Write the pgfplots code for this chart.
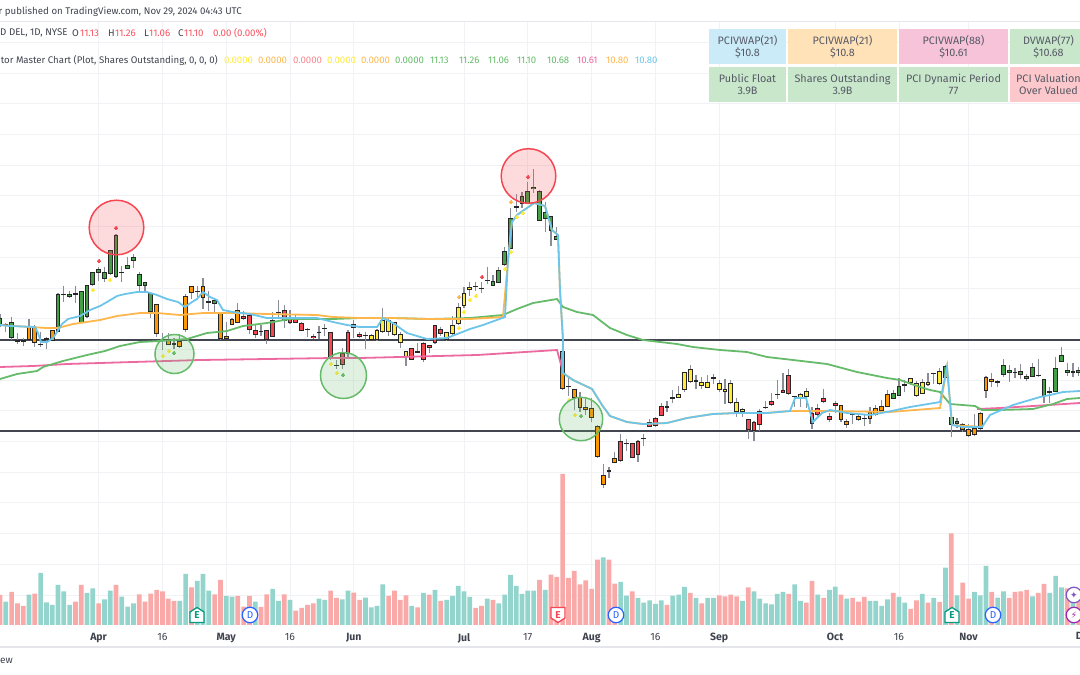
\documentclass[border=0pt]{standalone}
\usepackage{fontspec}
\setmainfont{Fira Sans}
\newfontfamily\sym{DejaVu Sans}
\usepackage{pgfplots}
\usepackage{pgfplotstable}
\pgfplotsset{compat=1.18}
\definecolor{gridc}{HTML}{F1F2F5}
\definecolor{sepc}{HTML}{E4E6EC}
\definecolor{hline}{HTML}{434651}
\definecolor{wick}{HTML}{8A8D96}
\definecolor{cgreen}{HTML}{43A047}
\definecolor{cyellow}{HTML}{FFEB3B}
\definecolor{corange}{HTML}{FF9800}
\definecolor{cred}{HTML}{F44751}
\definecolor{lblue}{HTML}{6DC5EA}
\definecolor{lorange}{HTML}{FFB74D}
\definecolor{lgreen}{HTML}{66BB6A}
\definecolor{lpink}{HTML}{EC6AA0}
\definecolor{volup}{HTML}{93D4CD}
\definecolor{voldn}{HTML}{F9A9A7}
\definecolor{txt}{HTML}{3F434E}
\definecolor{cellt}{HTML}{565A66}
\definecolor{valr}{HTML}{F7525F}
\definecolor{vy}{HTML}{FFEB3B}
\definecolor{evg}{HTML}{089981}
\definecolor{evb}{HTML}{2962FF}
\definecolor{evp}{HTML}{9C27B0}
\definecolor{evv}{HTML}{7E57C2}

% all values are read off the picture in pixels; i is the trading day, 5.8 px apart
\pgfplotstableread{
i hi lo top bot
0 314.3 326.7 317.7 325
2 317.3 340 322.3 337.7
10 293.3 332.3 294.3 332.3
12 290.7 297.7 294.3 297
14 291 322.7 291 322.7
15 285.3 317.7 285.3 316.7
16 271.7 285.7 272.3 285
17 267.3 280.7 269.3 272.7
18 267 282.3 272 279.3
19 250.3 275 250.3 274.3
20 234.3 277.7 235.3 277
22 256.7 269 265 269
23 253.7 268.3 257 261.3
24 272.3 291.7 273.7 285.7
25 281.7 293.3 282.3 286.3
26 292.7 317.7 293.3 312.3
36 291 311 301.3 303.3
37 297.7 314.3 300.3 304.3
85 275 286 281.3 286
86 267.3 283.3 269.7 282.7
87 247.3 266 251.3 265.3
88 207.7 248.7 218.3 248.7
90 191.7 208 196.3 203.7
91 181.7 203.7 191.3 203.7
92 169 193.3 187 189.3
93 190.3 221 191 221
94 201.7 231.7 212 219.3
95 215.7 245.7 216.3 230.7
96 227 240 236.3 239.7
154 390 399 393.3 398.7
155 377.7 396 386.3 395.7
163 365 378.7 366 378.3
164 416.7 437.3 416.7 425
165 418.3 428.3 420.7 424
172 380 387.3 381.3 383.3
173 359.3 376.7 365.3 375.3
174 365 382.3 370.3 373.3
176 364.3 378.7 371.3 375.3
177 374 380.7 376 379
178 363.3 377.3 366.7 376.7
180 378.7 402.7 378.7 396
181 386.7 403.3 391.3 393.3
182 356.7 391.7 368.3 391.7
183 347.3 362 354.5 361.5
184 362.7 376 370 373.3
185 363.3 376.7 371.3 373.3
186 367 376 370 372.5
}\greenT
\pgfplotstableread{
i hi lo top bot
1 322.7 332.3 323.7 325
3 333.3 344 340.3 341.7
4 337.7 345.7 340.3 341.7
7 331.7 347.3 343.6 345
11 285.7 301.7 293.6 295
13 285.7 303.3 293.3 294.7
21 265.7 282.3 271.6 273
28 333.3 350 339.6 341
34 285.7 296.7 291 292.4
45 325 335.7 330.6 332
48 300.3 317.7 312 313.4
53 328.3 336.7 328.6 330
55 326 339 331.6 333
56 324.3 335.7 328 329.4
58 360 369 364.6 366
63 331.7 349.3 335 336.4
82 281.7 290.7 286 287.4
84 266.7 284.3 280 281.4
89 194 212.3 206.3 207.7
98 377.7 396 386 387.4
105 466.7 477.7 470.3 471.7
108 439 450.7 443 444.4
111 434 446 438 439.4
116 390 402.7 397.3 398.7
120 375 389.3 380.3 381.7
132 400.7 409.3 406.6 408
134 380 399.3 393.6 395
137 396 406.7 396 397.4
147 414 424 413.6 415
149 414 425.7 417.6 419
156 380 391.7 384.3 385.7
161 372.7 384 373 374.4
175 367.7 378.3 371.6 373
179 359.3 377.3 374.6 376
}\dojiT
\pgfplotstableread{
i hi lo top bot
5 319.3 340 327.3 340
6 325 347.3 327.3 342.7
8 336.7 349 337.7 339.7
9 330 341 330.3 341
27 304.3 336.7 304.3 334.3
29 333.3 345.3 339.3 345.3
30 338.3 349 343 344.7
31 334.3 347.7 341.3 347
32 294.3 332.3 296 329.7
33 285.7 299 285.7 293.3
35 278.3 309.3 286.3 297.7
38 313.3 340 313.3 339.3
39 322.3 338.7 335.7 338.7
40 317.7 325 319.3 324.7
41 303 322.7 310.3 322.7
97 341.7 390 351 389.3
99 388.7 410 388.7 398.3
100 392 411.7 396.7 408.3
101 398.3 415 407.3 410
102 398.3 421.7 407.7 417.7
103 425 457.7 425.7 457
104 464.3 487.7 475.3 484.7
106 451.7 463.3 458.3 463.3
145 405 422 405 420
146 419.3 428.3 421.3 424.7
148 414 421 416 419.7
150 407.3 424 411.7 419.3
151 405 416 408 415
152 400 411.7 405.7 411
153 390 407.3 393.7 407
166 423.3 431.7 423.7 430
167 424 436.7 428.7 436
168 414.3 436 427.7 435.3
169 411.7 430 412.7 429
170 376 398 377.3 391
171 373.3 386.7 379.3 382
}\orangeT
\pgfplotstableread{
i hi lo top bot
64 334 340 335 340
65 329.3 340.7 330 340
66 307.7 332.7 320 331.7
67 319.3 336 320 332.3
68 321.7 336 322.3 334.7
69 331.7 348.3 334 343.3
70 351 365.7 351 356.7
77 331.7 340.7 332.3 340
78 316 335 325.3 334.3
79 302.7 325 307 324
80 287.3 308.3 293.3 305.7
81 281.7 295.7 287.3 289.7
83 281.7 293.3 287.7 289.3
115 400.7 411.7 406.3 408.3
117 386 398.3 393.7 398
118 371.7 391.7 372.3 390.3
119 365.3 383.3 369.3 382.3
121 376.7 389.3 382.3 386
122 375 388.3 381.7 388
123 374.3 384 377.3 379.3
124 380 392.3 383.3 390.3
125 379.3 404 389.3 391.7
126 380 404 383.3 402.7
127 398.3 416.7 401.7 412.3
128 408.3 416.7 409 412.3
138 393.3 406.7 394 398.3
139 388.3 408.3 391 396.7
157 377.7 385 378.3 382.7
158 380.7 396.7 383.3 396.3
159 379.3 394 381.7 393.7
160 373.3 386 381.7 385
162 368.3 385 371.3 384.3
}\yellowT
\pgfplotstableread{
i hi lo top bot
42 311 320 315.7 318.7
43 315.3 333.7 315.3 329.7
44 325 337.7 330.3 334.7
46 330.3 344 330.3 340
47 312.3 337 320 336.7
49 305 327.7 310.3 321
50 310 323.7 316.7 323.3
51 315 323.3 318.3 322.7
52 321.7 331 323 330.7
54 334.3 339 335.7 338
57 332.3 360 332.3 358.3
59 348.3 369 353.3 365
60 330.3 358.3 331.7 353.7
61 320 338.3 324.3 328.3
62 331.7 338.3 334 337.3
71 348 360 348 360
72 343.3 352.7 350.7 352.7
73 342 361.7 342.7 360
74 345 353.3 345 348.3
75 325 344.3 325.3 343.3
76 326.7 336 329.3 334.3
107 434 461.7 441.3 461.3
109 442.7 458.3 443 457.7
110 440 462.3 440.7 454.7
112 419.3 426.7 421.7 426.7
113 417.3 426.7 418.3 426
114 403.3 415.7 405.7 415.7
129 419.3 439 419.3 430
130 420.7 441 421.7 430.7
131 409.3 430.7 411 425
133 393.3 406 401 404.7
135 373.3 393.3 390 393
136 369.3 394.7 375.3 394
140 407.3 429 413.3 424
141 404 418.3 408.3 415.3
142 388.7 402.7 398.3 402
143 413.3 422.3 415.7 420.3
144 400.7 413.3 403.3 405.7
}\redT
\pgfplotstableread{
i h
1 23.3
5 30.3
7 52
8 22.7
9 20
10 40
11 33.7
12 20
15 32
16 36.7
18 25.7
19 34.3
21 28.3
22 18.3
23 21.7
31 24
32 51
34 44
35 51
36 34.3
39 29
40 28.3
44 23.3
47 36
48 24
50 25
55 26.3
56 25
59 25.7
60 34.3
63 27.3
64 17.7
65 19
66 40.7
71 19
73 32
75 35
77 25
78 29
79 39
80 33.7
81 28
84 26.3
86 21.7
87 30.3
88 50
89 39
90 31
91 34.3
92 34.3
94 35
104 67.7
107 43
108 29.3
110 27
111 22.3
112 24.7
113 21
114 24.7
116 29.3
117 30.3
118 38
120 27
122 27
123 27
128 24
130 33.7
131 26.3
132 21.7
133 20.7
134 31
135 33
137 40.7
138 24
141 30.3
143 35
144 38.3
146 26.3
150 24
151 24
152 19
153 25.7
155 28
156 22.3
159 31
161 27
163 57.3
165 29.7
168 33
169 29.7
170 59
172 27.3
173 33.7
178 28.7
181 32
182 49
183 37.7
185 38
}\volUp
\pgfplotstableread{
i h
0 30
2 33
3 21.7
4 19
6 31.3
13 23.3
14 40
17 21.7
20 40
24 30.7
25 23.3
26 31.3
27 35
28 33.7
29 26.3
30 24
33 37.7
37 30.7
38 45
41 29
42 18.3
43 29
45 18
46 30.7
49 30.7
51 14.3
52 17
53 20
54 21.7
57 34.3
58 27
61 32.3
62 25
67 29
68 34.3
69 25
70 29.7
72 17.7
74 30.3
76 24
82 17
83 19
85 25
93 45
95 50.3
96 48
97 151
98 47
99 54
100 40.7
101 44.7
102 36
103 65.3
105 65.3
106 41.3
109 33.7
115 20
119 32
121 21.7
124 29.7
125 28.7
126 30.3
127 28.7
129 37.7
136 31
139 22.3
140 44
142 27
145 30.3
147 27
148 23.3
149 28
154 32
157 16
158 24.7
160 22.3
162 23
164 91.7
166 42.3
167 26.3
171 33
174 27
175 33
176 33.7
177 35
179 32
180 41
184 36.7
186 30
}\volDn

\newcommand{\wicks}[1]{%
  \addplot[draw=none,mark=none,forget plot,error bars/.cd,y dir=plus,y explicit,error mark=none,
    error bar style={line width=1.3pt,draw=wick}]
    table[x expr=5.8*\thisrow{i},y=hi,y error plus expr={\thisrow{lo}-\thisrow{hi}}] {#1};
}
\newcommand{\bodies}[2]{%
  \addplot[draw=none,mark=none,forget plot,error bars/.cd,y dir=plus,y explicit,error mark=none,
    error bar style={line width=4.8pt,draw=black!85}]
    table[x expr=5.8*\thisrow{i},y=top,y error plus expr={\thisrow{bot}-\thisrow{top}}] {#1};
  \addplot[draw=none,mark=none,forget plot,error bars/.cd,y dir=plus,y explicit,error mark=none,
    error bar style={line width=2.9pt,draw=#2}]
    table[x expr=5.8*\thisrow{i},y expr={\thisrow{top}+1},y error plus expr={max(\thisrow{bot}-\thisrow{top}-2,0)}] {#1};
}
\newcommand{\sigdots}[2]{%
  \addplot[only marks,mark=*,mark size=1.9pt,mark options={draw=#1,fill=#1,line width=0pt},forget plot] coordinates {#2};
}
\newcommand{\ring}[4]{%
  \addplot[only marks,mark=*,mark size=#2pt,mark options={draw=#1,fill=#1,fill opacity=0.2,line width=1.5pt},forget plot] coordinates {(#3,#4)};
}
\newcommand{\cell}[7]{%
  \fill[#1] (axis cs:#2,#3) rectangle (axis cs:#4,#5);
  \node[font=\fontsize{10.8}{12.3}\selectfont,text=cellt,align=center,inner sep=0pt] at (axis cs:#6,#3/2+#5/2) {#7};
}
\newcommand{\val}[3]{%
  \node[anchor=west,inner sep=0pt,text=#2,font=\fontsize{9.6}{12}\selectfont] at (axis cs:#1,60) {#3};
}
\newcommand{\ohlc}[3]{%
  \node[anchor=west,inner sep=0pt,text=#2,font=\fontsize{9.7}{12}\selectfont] at (axis cs:#1,33) {#3};
}
\newcommand{\evD}[1]{%
  \node[circle,draw=evb,fill=white,line width=1.2pt,minimum size=15.5pt,inner sep=0pt,text=evb,font=\fontsize{10}{10}\selectfont] at (axis cs:#1,10) {D};
}
\newcommand{\evEup}[1]{%
  \draw[draw=evg,fill=white,line width=1.3pt] (axis cs:#1,10) ++(-7pt,-7.5pt) -- ++(14pt,0pt) -- ++(0pt,10.5pt) -- ++(-7pt,4.5pt) -- ++(-7pt,-4.5pt) -- cycle;
  \node[text=evg,font=\fontsize{10}{10}\selectfont\bfseries,inner sep=0pt] at (axis cs:#1,10) {E};
}
\newcommand{\evEdn}[1]{%
  \draw[draw=cred,fill=white,line width=1.3pt] (axis cs:#1,10) ++(-7pt,7.5pt) -- ++(14pt,0pt) -- ++(0pt,-10.5pt) -- ++(-7pt,-4.5pt) -- ++(-7pt,4.5pt) -- cycle;
  \node[text=cred,font=\fontsize{10}{10}\selectfont\bfseries,inner sep=0pt] at (axis cs:#1,10) {E};
}

\begin{document}
\begin{tikzpicture}
% price pane: x and y in pixels of the picture
\begin{axis}[
  at={(0,0)},anchor=south west,
  scale only axis,width=1080pt,height=675pt,
  xmin=0,xmax=1080,ymin=0,ymax=675,y dir=reverse,
  axis line style={draw=none},
  major tick length=0pt,
  ytick=\empty,
  xtick={98.6,162.4,226.2,290,353.8,464,527.8,591.6,655.4,719.2,835.2,899,968.6},
  xticklabels={\textbf{Apr},16,\textbf{May},16,\textbf{Jun},\textbf{Jul},17,\textbf{Aug},16,\textbf{Sep},\textbf{Oct},16,\textbf{Nov}},
  x tick label style={font=\fontsize{10.5}{13}\selectfont,text=txt,yshift=45pt},
]
% grid and separators
\pgfplotsinvokeforeach{98.6,162.4,226.2,290,353.8,464,527.8,591.6,655.4,719.2,835.2,899,968.6}{
  \draw[gridc,line width=0.9pt] (axis cs:#1,21) -- (axis cs:#1,625);
}
\pgfplotsinvokeforeach{73.1,103.8,134.5,165.2,195.9,226.6,257.3,288,318.7,349.4,380.1,410.8,441.5,472.2,502.9,533.6,564.3,595}{
  \draw[gridc,line width=0.9pt] (axis cs:0,#1) -- (axis cs:1080,#1);
}
\draw[sepc,line width=1pt] (axis cs:0,21.5) -- (axis cs:1080,21.5);
\draw[gridc,line width=0.8pt] (axis cs:0,42) -- (axis cs:1080,42);
\draw[sepc,line width=1.2pt] (axis cs:0,647) -- (axis cs:1080,647);
% header
\node[anchor=east,inner sep=0pt,text=txt,font=\fontsize{9.7}{12}\selectfont] at (axis cs:242,12) {r published on TradingView.com, Nov 29, 2024 04:43 UTC};
\node[anchor=west,inner sep=0pt,text=txt,font=\fontsize{9.7}{12}\selectfont] at (axis cs:0,33) {D DEL, 1D, NYSE};
\ohlc{72}{txt}{O}\ohlc{80}{valr}{11.13}\ohlc{108}{txt}{H}\ohlc{115}{valr}{11.26}
\ohlc{144}{txt}{L}\ohlc{149}{valr}{11.06}\ohlc{178}{txt}{C}\ohlc{184}{valr}{11.10}
\ohlc{213}{valr}{0.00 (0.00\%)}
\node[anchor=east,inner sep=0pt,text=txt,font=\fontsize{9.6}{12}\selectfont] at (axis cs:218,60) {tor Master Chart (Plot, Shares Outstanding, 0, 0, 0)};
\val{224}{vy}{0.0000}\val{258}{lorange}{0.0000}\val{293}{valr!70}{0.0000}\val{327}{vy}{0.0000}
\val{361}{lorange}{0.0000}\val{395}{lgreen}{0.0000}\val{430}{lgreen}{11.13}\val{459}{lgreen}{11.26}
\val{488}{lgreen}{11.06}\val{517}{lgreen}{11.10}\val{547}{lgreen}{10.68}\val{577}{lpink}{10.61}
\val{606}{lorange}{10.80}\val{635}{lblue}{10.80}
% info table
\cell{lblue!35}{709}{29}{786}{64}{747.5}{PCIVWAP(21)\\\$10.8}
\cell{lorange!40}{788}{29}{897}{64}{842.5}{PCIVWAP(21)\\\$10.8}
\cell{lpink!40}{899}{29}{1008}{64}{953.5}{PCIVWAP(88)\\\$10.61}
\cell{lgreen!35}{1010}{29}{1087}{64}{1048.5}{DVWAP(77)\\\$10.68}
\cell{lgreen!35}{709}{67}{786}{102}{747.5}{Public Float\\3.9B}
\cell{lgreen!35}{788}{67}{897}{102}{842.5}{Shares Outstanding\\3.9B}
\cell{lgreen!35}{899}{67}{1008}{102}{953.5}{PCI Dynamic Period\\77}
\cell{cred!30}{1010}{67}{1087}{102}{1048.5}{PCI Valuation\\Over Valued}
% horizontal levels
\addplot[hline,line width=1.7pt,forget plot] coordinates {(0,340.3) (1080,340.3)};
\addplot[hline,line width=1.7pt,forget plot] coordinates {(0,431) (1080,431)};
% candles
\wicks{\greenT}\wicks{\dojiT}\wicks{\orangeT}\wicks{\yellowT}\wicks{\redT}
\bodies{\greenT}{cgreen}
\bodies{\orangeT}{corange}
\bodies{\yellowT}{cyellow}
\bodies{\redT}{cred}
\bodies{\dojiT}{black}
% moving lines
\addplot[lpink,line width=1.8pt,forget plot] coordinates {(0,367) (33,366) (67,364) (133,362) (200,360) (267,359) (333,358) (360,358) (477,355) (557,350) (563,372)};
\addplot[lpink,line width=1.8pt,forget plot] coordinates {(977,409) (1000,408) (1033,406) (1080,403)};
\addplot[lgreen,line width=1.8pt,forget plot] coordinates {(0,379) (17,374) (37,371) (43,367) (63,361) (87,355) (105,351) (120,346) (140,342) (160,341) (187,339) (207,333) (227,331) (243,326) (267,323) (290,319) (333,319) (360,318) (393,318) (430,319) (470,318) (503,315) (517,309) (533,303) (557,299) (563,307) (577,312) (593,315) (610,328) (627,335) (643,340) (677,344) (693,347) (720,350) (747,352) (767,357) (793,360) (827,364) (857,372) (887,378) (900,380) (920,387) (930,390) (940,392) (950,404) (975,406) (982,410) (1000,410) (1033,409) (1053,404) (1067,399) (1080,398)};
\addplot[lorange,line width=1.8pt,forget plot] coordinates {(0,325) (30,327) (47,328) (58,328) (73,324) (100,320) (117,316) (140,313) (157,313) (180,315) (203,313) (233,313) (267,314) (317,315) (333,317) (360,318) (393,318) (427,319) (470,319) (503,317) (508,260) (512,222) (517,215) (527,208) (534,203) (545,206) (552,230) (558,235) (560,290) (563,340) (563,373) (573,380) (592,389) (602,405) (610,416) (627,422) (643,424) (667,423) (687,418) (713,414) (737,413) (767,413) (790,411) (830,411) (890,412) (940,408) (947,367) (952,425) (982,427)};
\addplot[lblue,line width=1.8pt,forget plot] coordinates {(0,325) (10,326) (35,327) (38,333) (41,342) (47,342) (53,338) (57,332) (62,324) (68,319) (80,316) (90,310) (100,306) (107,302) (117,296) (125,294) (137,292) (147,292) (157,295) (167,299) (178,302) (185,307) (192,302) (197,299) (203,292) (210,297) (217,300) (223,310) (233,312) (250,314) (267,318) (317,318) (333,322) (347,325) (360,327) (377,327) (383,318) (393,323) (407,333) (427,339) (447,338) (470,329) (483,325) (505,317) (508,260) (512,222) (517,215) (527,208) (534,203) (545,206) (552,230) (558,235) (560,290) (563,340) (563,373) (573,380) (592,389) (602,405) (610,416) (627,422) (643,424) (667,423) (687,418) (713,414) (737,413) (767,413) (790,411) (795,398) (806,398) (813,422) (822,413) (830,410) (847,413) (870,415) (887,412) (910,407) (940,402) (947,367) (952,425) (963,427) (982,427) (990,415) (1013,405) (1040,397) (1050,395) (1063,392) (1080,391)};
% signal dots
\sigdots{cred}{(116,228) (99,261) (482,277) (528,177)}
\sigdots{lorange}{(459,297) (511,202)}
\sigdots{vy}{(93,290) (110,280) (163,356) (169,351) (331,364) (337,373) (459,328) (464,312) (470,300) (476,296) (505,269) (511,252) (517,217) (523,213) (569,400) (575,415)}
\sigdots{lgreen}{(174,353) (343,375) (581,416)}
% circled highs and lows
\ring{cred}{27.3}{116.5}{227.5}
\ring{cred}{27.3}{528.5}{176}
\ring{lgreen}{19.5}{174.5}{354}
\ring{lgreen}{23}{343.5}{375.5}
\ring{lgreen}{21.7}{581}{419}
% bottom texts
\node[anchor=west,inner sep=0pt,text=txt,font=\fontsize{10}{12}\selectfont] at (axis cs:0,661) {ew};
\node[inner sep=0pt,text=txt,font=\fontsize{10.5}{13}\selectfont\bfseries] at (axis cs:1084.6,636) {Dec};
\end{axis}
% volume pane: height of each bar in pixels above the base line
\begin{axis}[
  at={(0,0)},anchor=south west,
  scale only axis,width=1080pt,height=675pt,
  xmin=0,xmax=1080,ymin=-50,ymax=625,
  hide axis,
]
\addplot[ybar,bar width=4.7pt,bar shift=0pt,fill=volup,draw=none,forget plot] table[x expr=5.8*\thisrow{i},y=h] {\volUp};
\addplot[ybar,bar width=4.7pt,bar shift=0pt,fill=voldn,draw=none,forget plot] table[x expr=5.8*\thisrow{i},y=h] {\volDn};
\evEup{197}\evD{250}\evEdn{558}\evD{616}\evEup{952}\evD{993}
\node[circle,draw=evv,fill=white,line width=1.2pt,minimum size=15.5pt,inner sep=0pt,text=evv,font=\sym\fontsize{9}{9}\selectfont] at (axis cs:1074,30) {✦};
\node[circle,draw=evp,fill=white,line width=1.2pt,minimum size=15.5pt,inner sep=0pt,text=evp,font=\sym\fontsize{9}{9}\selectfont] at (axis cs:1074,10) {⚡};
\end{axis}
\pgfresetboundingbox
\path[use as bounding box] (0,0) rectangle (1080pt,675pt);
\end{tikzpicture}
\end{document}
